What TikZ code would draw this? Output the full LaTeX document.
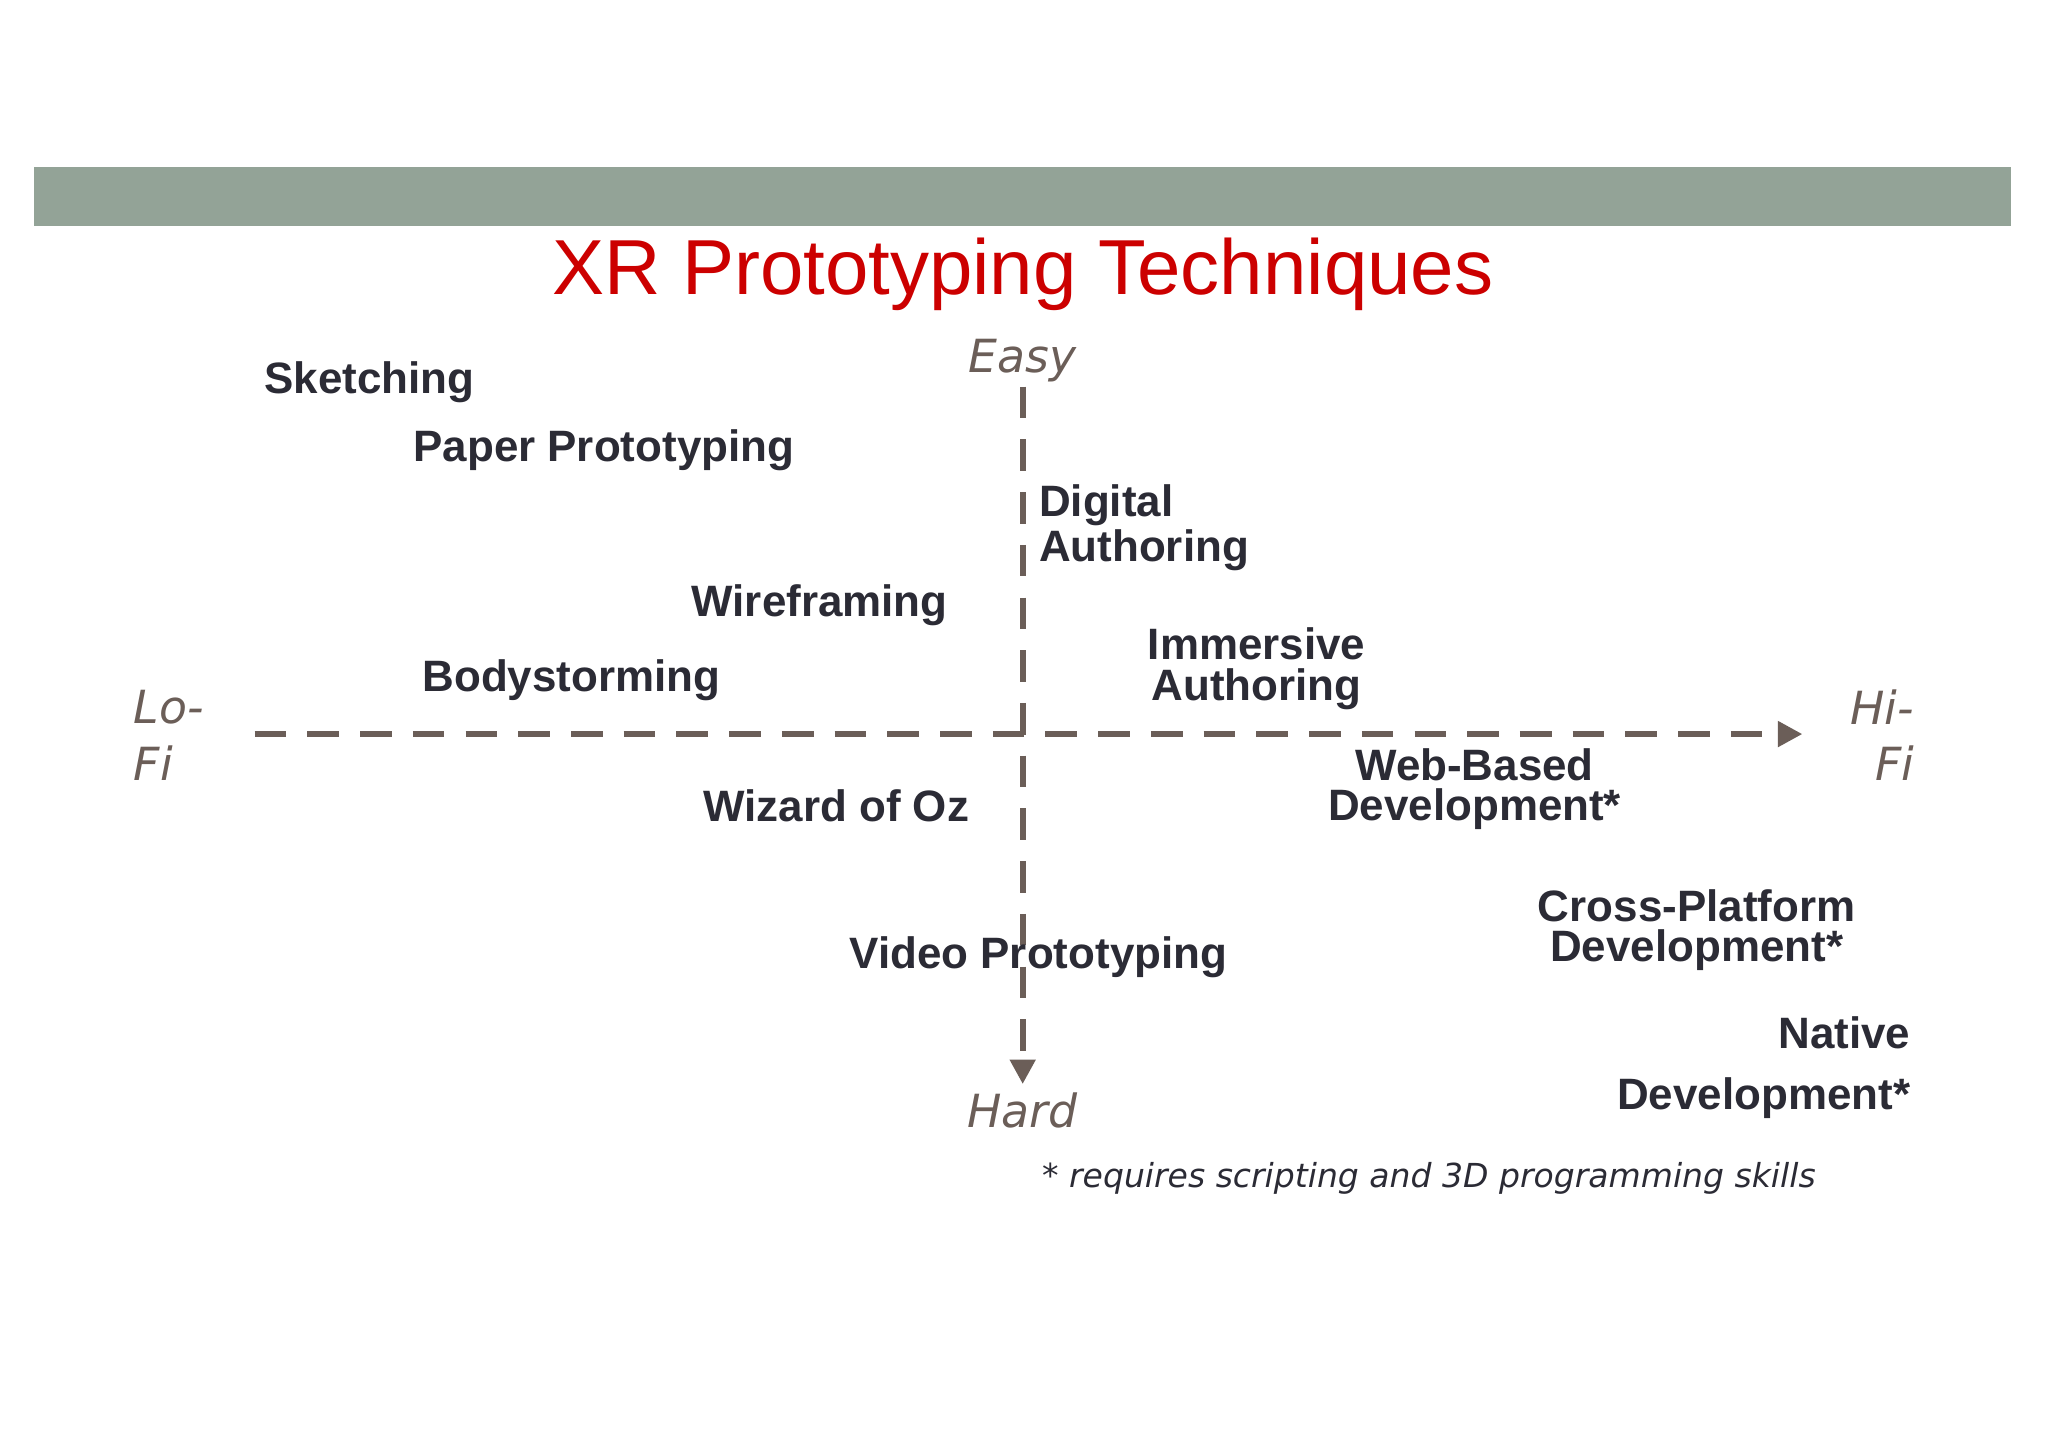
\documentclass[tikz,border=0pt]{standalone}
\usepackage{fontspec}
\setmainfont{Liberation Sans}
\newfontfamily\dvs{DejaVu Sans}
\usetikzlibrary{arrows.meta}
\definecolor{barc}{HTML}{93A397}
\definecolor{axc}{HTML}{6B5E58}
\definecolor{txc}{HTML}{2B2B35}
\definecolor{redc}{HTML}{CC0000}
\tikzset{
 lab/.style={font=\bfseries\fontsize{12.5}{11.5}\selectfont, text=txc, inner sep=0pt},
 axl/.style={font=\dvs\itshape\fontsize{13}{16}\selectfont, text=axc, inner sep=0pt},
 axis/.style={draw=axc, line width=1.8pt, dash pattern=on 9pt off 6pt, -{Triangle[length=7pt,width=7pt]}}
}
\begin{document}
\begin{tikzpicture}[x=0.01306cm,y=-0.01306cm]
\useasboundingbox (0,0) rectangle (1568,1108);
\fill[white] (0,0) rectangle (1568,1108);
\fill[barc] (26,128) rectangle (1540,173);
\node[text=redc, font=\fontsize{22.2}{26}\selectfont, inner sep=0pt] (title) at (783,210) {XR Prototyping Techniques};
\coordinate (vt) at (783,296); \coordinate (vb) at (783,830);
\coordinate (hl) at (195,562); \coordinate (hr) at (1380,562);
\draw[axis] (vt) -- (vb);
\draw[axis] (hl) -- (hr);
\node[axl] (easy) at (783,276) {Easy};
\node[axl] (hard) at (783,850) {Hard};
\node[axl, align=left, anchor=west] (lofi) at (102,563) {Lo-\\Fi};
\node[axl, align=right, anchor=east] (hifi) at (1466,563) {Hi-\\Fi};
\node[lab, anchor=west] (sk) at (202,293) {Sketching};
\node[lab, anchor=west] (pp) at (316,345) {Paper Prototyping};
\node[lab, anchor=west, align=left] (da) at (795,404) {Digital\\Authoring};
\node[lab, anchor=west] (wf) at (529,463) {Wireframing};
\node[lab, align=center] (ia) at (962,512) {Immersive\\Authoring};
\node[lab, anchor=west] (bs) at (323,521) {Bodystorming};
\node[lab, align=center] (wb) at (1129,604) {Web-Based\\Development*};
\node[lab, anchor=west] (wo) at (538,617) {Wizard of Oz};
\node[lab, align=center] (cp) at (1299,712) {Cross-Platform\\Development*};
\node[lab, anchor=west] (vp) at (650,733) {Video Prototyping};
\node[lab, anchor=east] (nd1) at (1463,791) {Native};
\node[lab, anchor=east] (nd2) at (1463,841) {Development*};
\node[font=\dvs\itshape\fontsize{9.4}{12}\selectfont, text=txc, inner sep=0pt] (fn) at (1094,902) {* requires scripting and 3D programming skills};
\end{tikzpicture}
\end{document}
